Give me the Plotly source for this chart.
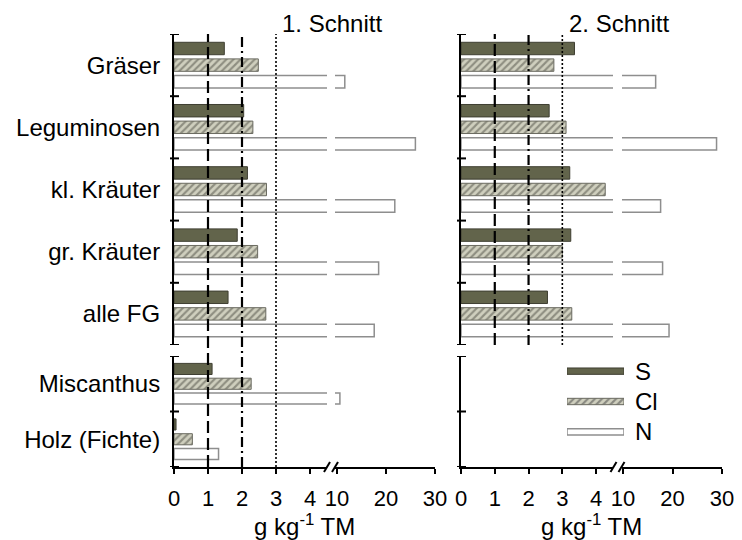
import plotly.graph_objects as go

# ---------------------------------------------------------------- data
series = ["S", "Cl", "N"]
groups_main = ["Gräser", "Leguminosen", "kl. Kräuter", "gr. Kräuter", "alle FG"]
groups_ref = ["Miscanthus", "Holz (Fichte)"]

# 1. Schnitt (g kg-1 TM)
cut1_S = [1.48, 2.05, 2.16, 1.86, 1.59]
cut1_Cl = [2.48, 2.32, 2.72, 2.46, 2.70]
cut1_N = [11.6, 26.0, 21.8, 18.5, 17.6]

# Referenzbrennstoffe
ref_S = [1.12, 0.06]
ref_Cl = [2.27, 0.54]
ref_N = [10.6, 1.31]

# 2. Schnitt
cut2_S = [3.36, 2.61, 3.22, 3.25, 2.56]
cut2_Cl = [2.75, 3.11, 4.27, 3.00, 3.28]
cut2_N = [16.6, 28.9, 17.6, 18.0, 19.3]

# Richtwerte (vertikale Linien)
limit_values = [1, 2, 3]

low_ticks = [0, 1, 2, 3, 4]
high_ticks = [10, 20, 30]
panel_titles = ["1. Schnitt", "2. Schnitt"]
axis_title = "g kg<sup>-1</sup> TM"

# ---------------------------------------------------------------- styling
W, H = 742, 540
FONT = "Liberation Sans, Arial, sans-serif"
FS = 24
FS_TICK = 22

STYLE = {
    "S": dict(color="#62644b", line_color="#3f3f32", line_width=1, shape="", fg=None),
    "Cl": dict(color="#cfcfbe", line_color="#6a6a60", line_width=1, shape="/", fg="#4e4e44"),
    "N": dict(color="#ffffff", line_color="#8e8e8e", line_width=1.5, shape="", fg=None),
}
LIMIT_DASH = ["12px,5px", "10px,4px,2px,4px", "2px,2px"]
LIMIT_WIDTH = [2.2, 2.2, 1.6]


def fx(p):
    return p / W


def fy(p):
    return 1 - p / H


UPPER = (34, 345)
LOWER = (356, 467)

panels = [
    dict(lo=(174, 327), hi=(335, 435), hi_start=9.6, xs=["x", "x2", "x3", "x4"],
         ys=["y", "y2"], labels=True, title_x=332),
    dict(lo=(461, 613), hi=(622, 722), hi_start=9.8, xs=["x5", "x6", "x7", "x8"],
         ys=["y3", "y4"], labels=False, title_x=619),
]

data_upper = [(cut1_S, cut1_Cl, cut1_N), (cut2_S, cut2_Cl, cut2_N)]
data_lower = [(ref_S, ref_Cl, ref_N), None]


def lname(ref):
    return ref[0] + "axis" + ref[1:]


fig = go.Figure()


def add_bars(xref, yref, cats, values):
    for name, vals in zip(series, values):
        st = STYLE[name]
        marker = dict(color=st["color"], line=dict(color=st["line_color"], width=st["line_width"]))
        if st["shape"]:
            marker["pattern"] = dict(shape=st["shape"], fgcolor=st["fg"], size=5,
                                     solidity=0.42, fillmode="overlay")
        fig.add_trace(go.Bar(x=vals, y=cats, orientation="h", name=name, marker=marker,
                             xaxis=xref, yaxis=yref, showlegend=False, hoverinfo="skip"))


layout = dict(
    width=W, height=H, margin=dict(l=0, r=0, t=0, b=0), autosize=False,
    template="none", paper_bgcolor="white", plot_bgcolor="white",
    barmode="group", bargap=0.2, bargroupgap=0.25, showlegend=False,
    font=dict(family=FONT, size=FS, color="black"),
)
shapes = []
annotations = []

hidden_x = dict(showline=False, showgrid=False, zeroline=False, ticks="",
                showticklabels=False, automargin=False)

for pi, p in enumerate(panels):
    xl_u, xh_u, xl_l, xh_l = p["xs"]
    yu, yl = p["ys"]
    lo_dom = [fx(p["lo"][0]), fx(p["lo"][1])]
    hi_dom = [fx(p["hi"][0]), fx(p["hi"][1])]
    lo_range = [0, 4.5]
    hi_range = [p["hi_start"], 30]

    layout[lname(xl_u)] = dict(hidden_x, domain=lo_dom, range=lo_range, anchor=yu)
    layout[lname(xh_u)] = dict(hidden_x, domain=hi_dom, range=hi_range, anchor=yu)
    vis_x = dict(showline=True, linecolor="black", linewidth=2, showgrid=False,
                 zeroline=False, ticks="outside", ticklen=5, tickwidth=1.5,
                 tickcolor="black", tickfont=dict(size=FS_TICK), ticklabelstandoff=6,
                 automargin=False)
    layout[lname(xl_l)] = dict(vis_x, domain=lo_dom, range=lo_range, anchor=yl,
                               tickvals=low_ticks)
    layout[lname(xh_l)] = dict(vis_x, domain=hi_dom, range=hi_range, anchor=yl,
                               tickvals=high_ticks)

    y_common = dict(showline=True, linecolor="black", linewidth=2, showgrid=False,
                    zeroline=False, ticks="", automargin=False,
                    tickfont=dict(size=FS), ticklabelstandoff=7)
    layout[lname(yu)] = dict(y_common, domain=[fy(UPPER[1]), fy(UPPER[0])], anchor=xl_u,
                             type="category", categoryorder="array",
                             categoryarray=groups_main,
                             range=[len(groups_main) - 0.5, -0.5],
                             showticklabels=p["labels"])
    layout[lname(yl)] = dict(y_common, domain=[fy(LOWER[1]), fy(LOWER[0])], anchor=xl_l,
                             type="category", categoryorder="array",
                             categoryarray=groups_ref,
                             range=[len(groups_ref) - 0.5, -0.5],
                             showticklabels=p["labels"])

    add_bars(xl_u, yu, groups_main, data_upper[pi])
    add_bars(xh_u, yu, groups_main, data_upper[pi])
    if data_lower[pi] is not None:
        add_bars(xl_l, yl, groups_ref, data_lower[pi])
        add_bars(xh_l, yl, groups_ref, data_lower[pi])
    else:
        # empty lower section still needs its axes drawn
        for xr in (xl_l, xh_l):
            fig.add_trace(go.Scatter(x=[], y=[], xaxis=xr, yaxis=yl,
                                     showlegend=False, hoverinfo="skip"))

    # crossing ticks on the category boundaries
    lo_w = p["lo"][1] - p["lo"][0]
    for yref, xref, n in [(yu, xl_u, len(groups_main)), (yl, xl_l, len(groups_ref))]:
        for k in range(n + 1):
            shapes.append(dict(type="line", xref=xref + " domain", yref=yref,
                               x0=-4 / lo_w, x1=5 / lo_w, y0=k - 0.5, y1=k - 0.5,
                               line=dict(color="black", width=2)))

    # limit lines
    y_bottom = LOWER[1] if data_lower[pi] is not None else UPPER[1]
    for v, dash, lw in zip(limit_values, LIMIT_DASH, LIMIT_WIDTH):
        shapes.append(dict(type="line", xref=xl_u, yref="paper", x0=v, x1=v,
                           y0=fy(y_bottom), y1=fy(UPPER[0]), layer="above",
                           line=dict(color="black", width=lw, dash=dash)))

    # axis break marks
    gap_mid = (p["lo"][1] + p["hi"][0]) / 2
    for dx in (-4, 4):
        cx = gap_mid + dx
        shapes.append(dict(type="line", xref="paper", yref="paper",
                           x0=fx(cx - 3), x1=fx(cx + 3),
                           y0=fy(LOWER[1] + 5), y1=fy(LOWER[1] - 5),
                           line=dict(color="black", width=2)))

    annotations.append(dict(text=panel_titles[pi], xref="paper", yref="paper",
                            x=fx(p["title_x"]), y=fy(24), showarrow=False,
                            xanchor="center", yanchor="middle", font=dict(size=FS)))
    annotations.append(dict(text=axis_title, xref="paper", yref="paper",
                            x=fx((p["lo"][0] + p["hi"][1]) / 2), y=fy(525),
                            showarrow=False, xanchor="center", yanchor="middle",
                            font=dict(size=FS)))

# key for the three elements
key_colors = [STYLE[s]["color"] for s in series]
key_lines = [STYLE[s]["line_color"] for s in series]
key_widths = [STYLE[s]["line_width"] for s in series]
key_shapes = [STYLE[s]["shape"] for s in series]
key_fg = [STYLE[s]["fg"] or STYLE[s]["color"] for s in series]
fig.add_trace(go.Bar(
    x=[1] * len(series), y=series, orientation="h", width=0.21,
    marker=dict(color=key_colors, line=dict(color=key_lines, width=key_widths),
                pattern=dict(shape=key_shapes, fgcolor=key_fg, size=5, solidity=0.42,
                             fillmode="overlay")),
    xaxis="x9", yaxis="y5", showlegend=False, hoverinfo="skip"))
layout["xaxis9"] = dict(hidden_x, domain=[fx(567), fx(624)], range=[0, 1], anchor="y5")
layout["yaxis5"] = dict(domain=[fy(447), fy(356)], anchor="x9", side="right",
                        type="category", range=[len(series) - 0.5, -0.5],
                        showline=False, showgrid=False, zeroline=False, ticks="",
                        tickfont=dict(size=FS), ticklabelstandoff=10, automargin=False)

layout["shapes"] = shapes
layout["annotations"] = annotations
fig.update_layout(**layout)

fig.write_html("out.html")
